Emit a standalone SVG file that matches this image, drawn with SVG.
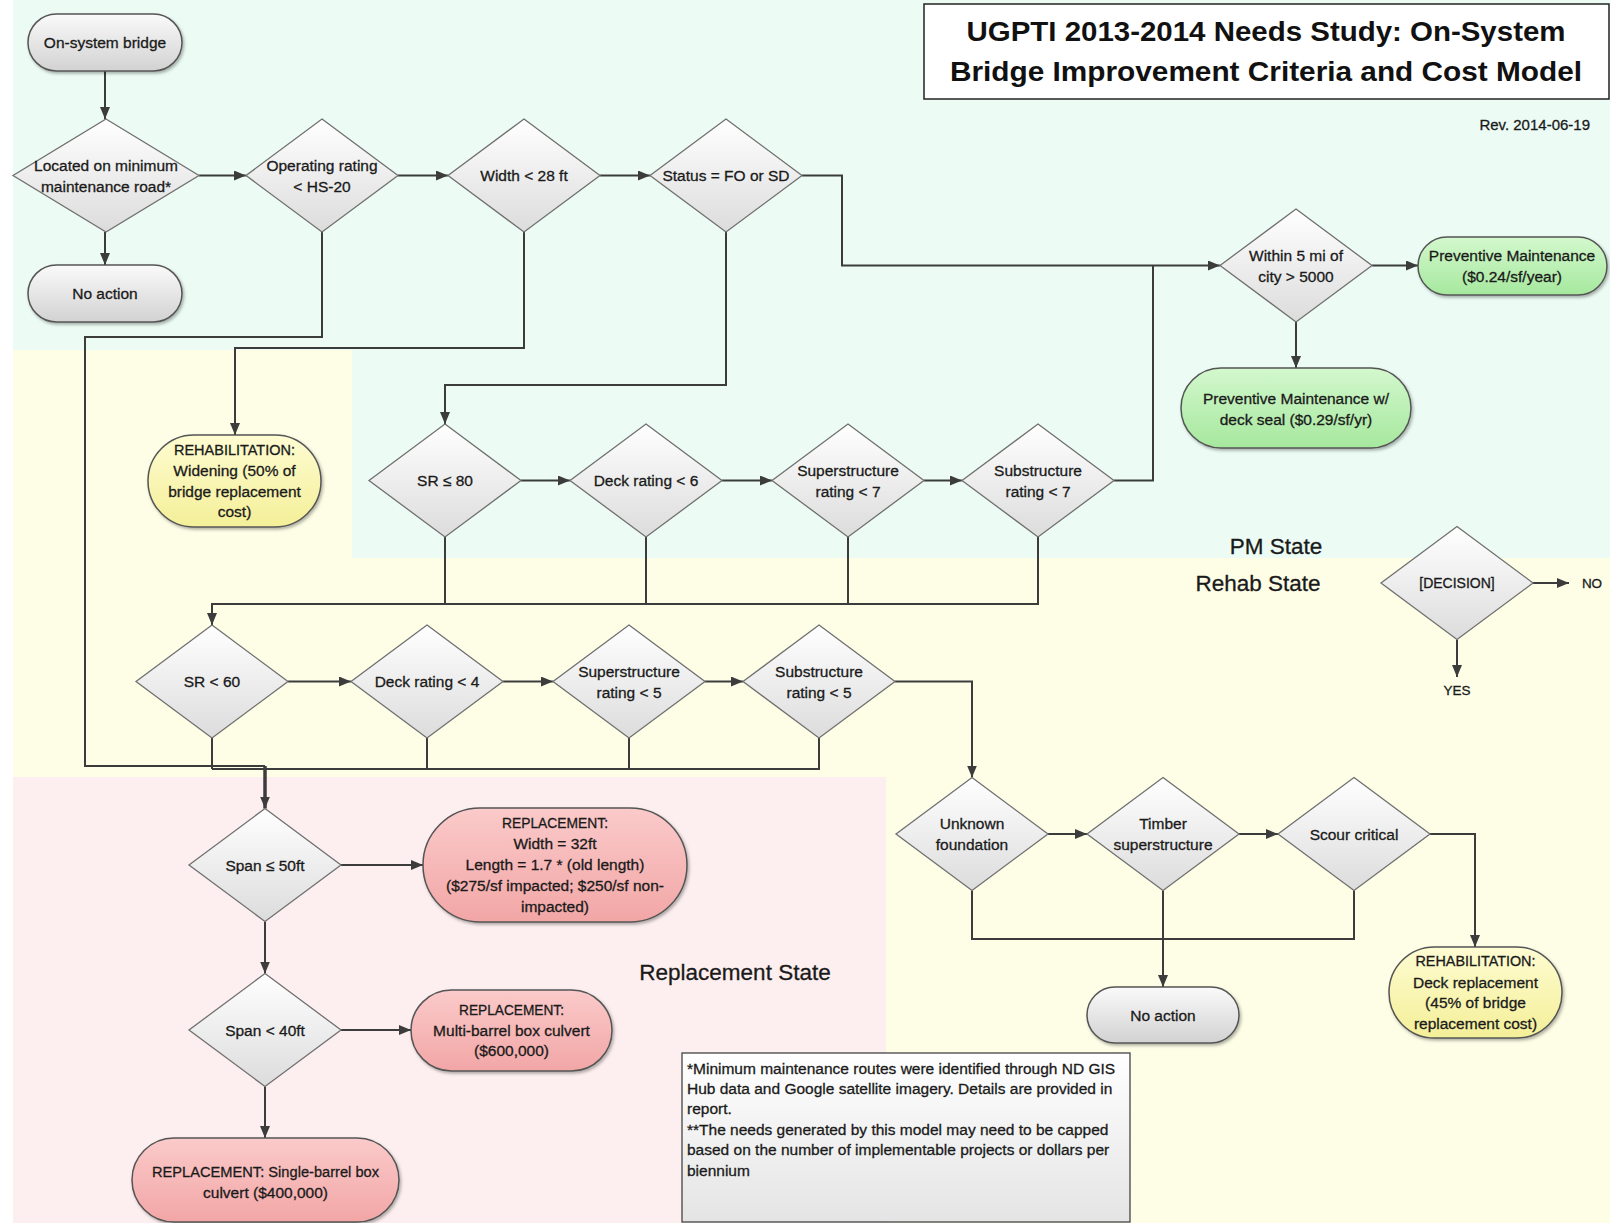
<svg xmlns="http://www.w3.org/2000/svg" width="1610" height="1223" viewBox="0 0 1610 1223">
<style>
text{font-family:"Liberation Sans",Arial,sans-serif;fill:#1a1a1a;stroke:#1a1a1a;stroke-width:0.3;font-size:15.5px;text-anchor:middle;dominant-baseline:central}
.caps{font-size:14px}
.state{font-size:22.5px;fill:#1a1a1a}
.note{font-size:15.5px;text-anchor:start}
.title{font-size:28px;font-weight:bold;fill:#111;stroke:none}
.dia{fill:url(#gDia);stroke:#707070;stroke-width:1.3}
.pg{fill:url(#gGray);stroke:#555;stroke-width:1.5;filter:url(#sh)}
.pgr{fill:url(#gGreen);stroke:#555;stroke-width:1.5;filter:url(#sh)}
.py{fill:url(#gYel);stroke:#555;stroke-width:1.5;filter:url(#sh)}
.pp{fill:url(#gPink);stroke:#555;stroke-width:1.5;filter:url(#sh)}
.c{fill:none;stroke:#3c3c3c;stroke-width:2}
.ca{fill:none;stroke:#3c3c3c;stroke-width:2;marker-end:url(#arr)}
.thick{fill:none;stroke:#3c3c3c;stroke-width:3.5;marker-end:url(#arr)}
</style>
<defs>
<linearGradient id="gDia" x1="0" y1="0" x2="0" y2="1"><stop offset="0" stop-color="#ffffff"/><stop offset="1" stop-color="#dcdcdc"/></linearGradient>
<linearGradient id="gGray" x1="0" y1="0" x2="0" y2="1"><stop offset="0" stop-color="#fafafa"/><stop offset="1" stop-color="#d2d2d2"/></linearGradient>
<linearGradient id="gGreen" x1="0" y1="0" x2="0" y2="1"><stop offset="0" stop-color="#d3f8cd"/><stop offset="1" stop-color="#a6e89e"/></linearGradient>
<linearGradient id="gYel" x1="0" y1="0" x2="0" y2="1"><stop offset="0" stop-color="#fefcd2"/><stop offset="1" stop-color="#f4ef98"/></linearGradient>
<linearGradient id="gPink" x1="0" y1="0" x2="0" y2="1"><stop offset="0" stop-color="#fbcaca"/><stop offset="1" stop-color="#f2a6a6"/></linearGradient>
<linearGradient id="gNote" x1="0" y1="0" x2="0" y2="1"><stop offset="0" stop-color="#ffffff"/><stop offset="1" stop-color="#e4e4e4"/></linearGradient>
<filter id="sh" x="-10%" y="-10%" width="125%" height="130%"><feDropShadow dx="1.5" dy="2" stdDeviation="1.5" flood-color="#000" flood-opacity="0.3"/></filter>
<marker id="arr" viewBox="0 0 12 10" markerWidth="12" markerHeight="10" refX="12" refY="5" orient="auto" markerUnits="userSpaceOnUse"><path d="M0,0 L12,5 L0,10 z" fill="#3c3c3c"/></marker>
</defs>

<g id="backgrounds">
<polygon points="13,0 1610,0 1610,558 352,558 352,350 13,350" fill="#ecfcf5"/>
<polygon points="13,350 352,350 352,558 1610,558 1610,1223 13,1223" fill="#fefee7"/>
<rect x="13" y="777" width="873" height="446" fill="#fdefef"/>
</g>

<g id="title">
<rect x="924" y="4" width="685" height="95" fill="#ffffff" stroke="#222" stroke-width="1.5"/>
<text class="title" x="1266" y="31" textLength="599" lengthAdjust="spacingAndGlyphs">UGPTI 2013-2014 Needs Study: On-System</text>
<text class="title" x="1266" y="71" textLength="632" lengthAdjust="spacingAndGlyphs">Bridge Improvement Criteria and Cost Model</text>
</g>
<text x="1590" y="124" style="text-anchor:end;font-size:15px">Rev. 2014-06-19</text>

<g id="state-labels">
<text class="state" x="1276" y="546">PM State</text>
<text class="state" x="1258" y="583">Rehab State</text>
<text class="state" x="735" y="972">Replacement State</text>
</g>

<g id="connectors">
<path class="ca" d="M105,71 V119"/>
<path class="ca" d="M105,232 V265"/>
<path class="ca" d="M199,175.5 H246"/>
<path class="ca" d="M398,175.5 H448"/>
<path class="ca" d="M600,175.5 H650"/>
<path class="ca" d="M802,175.5 H842 V265.5 H1220"/>
<path class="ca" d="M1372,265.5 H1418"/>
<path class="ca" d="M1296,322 V368"/>
<path class="c" d="M322,232 V337 H85 V766 H265"/>
<path class="ca" d="M524,232 V348 H235 V435"/>
<path class="ca" d="M726,232 V385 H445 V424"/>
<path class="ca" d="M521,480.5 H570"/>
<path class="ca" d="M722,480.5 H772"/>
<path class="ca" d="M924,480.5 H962"/>
<path class="c" d="M1114,480.5 H1153 V265.5"/>
<path class="c" d="M445,537 V604 M646,537 V604 M848,537 V604"/>
<path class="ca" d="M1038,537 V604 H212 V625"/>
<path class="ca" d="M288,681.5 H351"/>
<path class="ca" d="M503,681.5 H553"/>
<path class="ca" d="M705,681.5 H743"/>
<path class="ca" d="M895,681.5 H972 V777.5"/>
<path class="c" d="M212,738 V769 M427,738 V769 M629,738 V769 M819,738 V769 H212"/>
<path class="thick" d="M265,766 V808.5"/>
<path class="ca" d="M341,865 H423"/>
<path class="ca" d="M265,921.5 V973.5"/>
<path class="ca" d="M341,1030 H411"/>
<path class="ca" d="M265,1086.5 V1138"/>
<path class="ca" d="M1048,834 H1087"/>
<path class="ca" d="M1239,834 H1278"/>
<path class="ca" d="M1430,834 H1475 V947"/>
<path class="c" d="M972,890.5 V939 H1354 V890.5"/>
<path class="ca" d="M1163,890.5 V987"/>
<path class="ca" d="M1533,583 H1569"/>
<path class="ca" d="M1457,639.5 V677"/>
</g>

<g id="n-onsystem"><rect class="pg" x="28" y="14" width="154" height="57" rx="28.5"/><text x="105" y="42.5">On-system bridge</text></g>
<g id="n-minmaint"><polygon class="dia" points="106,119 199,175.5 106,232 13,175.5"/><text x="106" y="165">Located on minimum</text><text x="106" y="186">maintenance road*</text></g>
<g id="n-noaction1"><rect class="pg" x="28" y="265" width="154" height="57" rx="28.5"/><text x="105" y="293.5">No action</text></g>
<g id="n-oprating"><polygon class="dia" points="322,119 398,175.5 322,232 246,175.5"/><text x="322" y="165">Operating rating</text><text x="322" y="186">&lt; HS-20</text></g>
<g id="n-width"><polygon class="dia" points="524,119 600,175.5 524,232 448,175.5"/><text x="524" y="175.5">Width &lt; 28 ft</text></g>
<g id="n-status"><polygon class="dia" points="726,119 802,175.5 726,232 650,175.5"/><text x="726" y="175.5">Status = FO or SD</text></g>
<g id="n-within5"><polygon class="dia" points="1296,209 1372,265.5 1296,322 1220,265.5"/><text x="1296" y="255">Within 5 mi of</text><text x="1296" y="276">city &gt; 5000</text></g>
<g id="n-pm"><rect class="pgr" x="1418" y="237" width="189" height="58" rx="29"/><text x="1512" y="255.5">Preventive Maintenance</text><text x="1512" y="276">($0.24/sf/year)</text></g>
<g id="n-pmdeck"><rect class="pgr" x="1181" y="368" width="230" height="80" rx="40"/><text x="1296" y="398">Preventive Maintenance w/</text><text x="1296" y="419">deck seal ($0.29/sf/yr)</text></g>
<g id="n-rehab-widening"><rect class="py" x="148" y="435" width="173" height="92" rx="46"/><text class="caps" x="234.5" y="450" textLength="121" lengthAdjust="spacingAndGlyphs">REHABILITATION:</text><text x="234.5" y="470.5">Widening (50% of</text><text x="234.5" y="491">bridge replacement</text><text x="234.5" y="511.5">cost)</text></g>
<g id="n-sr80"><polygon class="dia" points="445,424 521,480.5 445,537 369,480.5"/><text x="445" y="480.5">SR ≤ 80</text></g>
<g id="n-deck6"><polygon class="dia" points="646,424 722,480.5 646,537 570,480.5"/><text x="646" y="480.5">Deck rating &lt; 6</text></g>
<g id="n-super7"><polygon class="dia" points="848,424 924,480.5 848,537 772,480.5"/><text x="848" y="470">Superstructure</text><text x="848" y="491">rating &lt; 7</text></g>
<g id="n-sub7"><polygon class="dia" points="1038,424 1114,480.5 1038,537 962,480.5"/><text x="1038" y="470">Substructure</text><text x="1038" y="491">rating &lt; 7</text></g>
<g id="n-sr60"><polygon class="dia" points="212,625 288,681.5 212,738 136,681.5"/><text x="212" y="681.5">SR &lt; 60</text></g>
<g id="n-deck4"><polygon class="dia" points="427,625 503,681.5 427,738 351,681.5"/><text x="427" y="681.5">Deck rating &lt; 4</text></g>
<g id="n-super5"><polygon class="dia" points="629,625 705,681.5 629,738 553,681.5"/><text x="629" y="671">Superstructure</text><text x="629" y="692">rating &lt; 5</text></g>
<g id="n-sub5"><polygon class="dia" points="819,625 895,681.5 819,738 743,681.5"/><text x="819" y="671">Substructure</text><text x="819" y="692">rating &lt; 5</text></g>
<g id="n-unknown"><polygon class="dia" points="972,777.5 1048,834 972,890.5 896,834"/><text x="972" y="823">Unknown</text><text x="972" y="844">foundation</text></g>
<g id="n-timber"><polygon class="dia" points="1163,777.5 1239,834 1163,890.5 1087,834"/><text x="1163" y="823">Timber</text><text x="1163" y="844">superstructure</text></g>
<g id="n-scour"><polygon class="dia" points="1354,777.5 1430,834 1354,890.5 1278,834"/><text x="1354" y="834">Scour critical</text></g>
<g id="n-noaction2"><rect class="pg" x="1087" y="987" width="152" height="56" rx="28"/><text x="1163" y="1015">No action</text></g>
<g id="n-rehab-deck"><rect class="py" x="1389" y="947" width="173" height="91" rx="45.5"/><text class="caps" x="1475.5" y="961" textLength="120" lengthAdjust="spacingAndGlyphs">REHABILITATION:</text><text x="1475.5" y="982">Deck replacement</text><text x="1475.5" y="1002">(45% of bridge</text><text x="1475.5" y="1023">replacement cost)</text></g>
<g id="n-span50"><polygon class="dia" points="265,808.5 341,865 265,921.5 189,865"/><text x="265" y="865">Span ≤ 50ft</text></g>
<g id="n-rep-bridge"><rect class="pp" x="423" y="808" width="264" height="114" rx="57"/><text class="caps" x="555" y="822.5" textLength="106" lengthAdjust="spacingAndGlyphs">REPLACEMENT:</text><text x="555" y="843">Width = 32ft</text><text x="555" y="864.5">Length = 1.7 * (old length)</text><text x="555" y="885.5">($275/sf impacted; $250/sf non-</text><text x="555" y="906">impacted)</text></g>
<g id="n-span40"><polygon class="dia" points="265,973.5 341,1030 265,1086.5 189,1030"/><text x="265" y="1030">Span &lt; 40ft</text></g>
<g id="n-rep-multi"><rect class="pp" x="411" y="990" width="201" height="81" rx="40.5"/><text class="caps" x="511.5" y="1009.5" textLength="105" lengthAdjust="spacingAndGlyphs">REPLACEMENT:</text><text x="511.5" y="1030">Multi-barrel box culvert</text><text x="511.5" y="1050.5">($600,000)</text></g>
<g id="n-rep-single"><rect class="pp" x="132" y="1138" width="267" height="84" rx="42"/><text x="265.5" y="1171" textLength="227" lengthAdjust="spacingAndGlyphs">REPLACEMENT: Single-barrel box</text><text x="265.5" y="1192">culvert ($400,000)</text></g>

<g id="legend">
<polygon class="dia" points="1457,526.5 1533,583 1457,639.5 1381,583"/>
<text x="1457" y="583" style="font-size:14px">[DECISION]</text>
<text x="1592" y="583" style="font-size:13.5px">NO</text>
<text x="1457" y="690" style="font-size:13.5px">YES</text>
</g>

<g id="note">
<rect x="682" y="1053" width="448" height="169" fill="url(#gNote)" stroke="#444" stroke-width="1.3"/>
<text class="note" x="687" y="1068">*Minimum maintenance routes were identified through ND GIS</text>
<text class="note" x="687" y="1088">Hub data and Google satellite imagery. Details are provided in</text>
<text class="note" x="687" y="1108">report.</text>
<text class="note" x="687" y="1129">**The needs generated by this model may need to be capped</text>
<text class="note" x="687" y="1149.5">based on the number of implementable projects or dollars per</text>
<text class="note" x="687" y="1170">biennium</text>
</g>
</svg>
